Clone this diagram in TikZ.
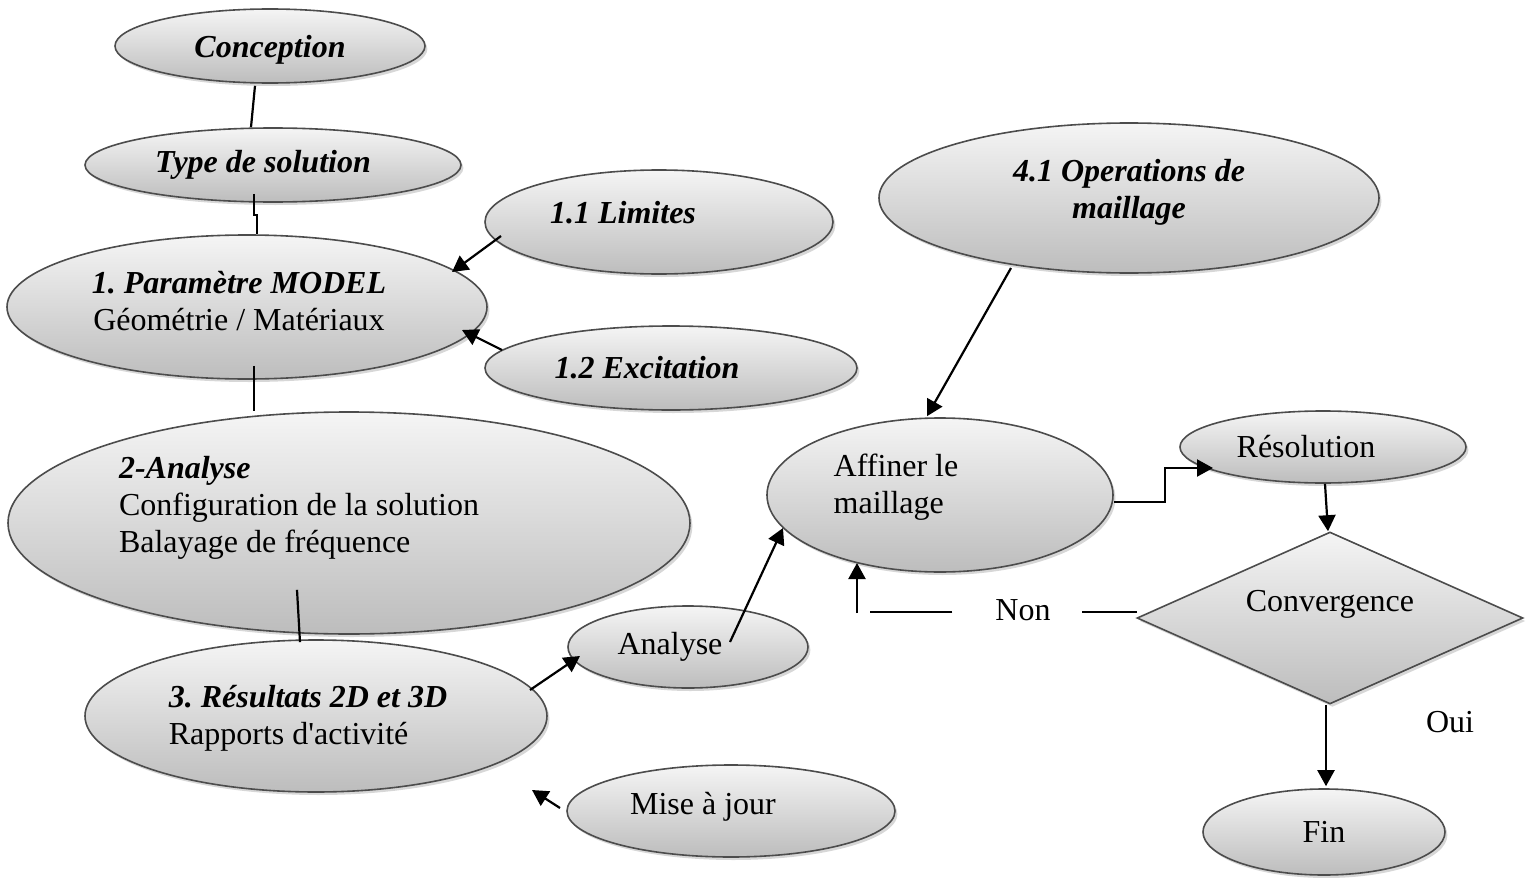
\documentclass[tikz,border=0pt]{standalone}
\usepackage{fontspec}
\setmainfont{Liberation Serif}
\usetikzlibrary{calc,shapes.geometric,shadows,arrows.meta}
\frenchspacing

\begin{document}
\begin{tikzpicture}[x=0.5pt,y=-0.5pt,
    every node/.style={font=\fontsize{16}{18.5}\selectfont},
    titre/.style={font=\fontsize{16}{18.5}\selectfont\bfseries\itshape},
    bulle/.style={ellipse, draw=gray!60!black, line width=0.8pt, inner sep=0pt,
      top color=gray!8, bottom color=gray!52,
      drop shadow={shadow xshift=1.2pt, shadow yshift=-1.5pt, fill=gray!45, opacity=0.7}},
    losange/.style={bulle, diamond},
    txt/.style={align=left, inner sep=0pt},
    ln/.style={line width=1.1pt},
    fl/.style={ln, -{Triangle[length=8pt,width=8.5pt]}}]
    \useasboundingbox (0,0) rectangle (1533,878);

    % partie gauche
    \node [bulle, minimum width=155pt, minimum height=37pt,
      label={[titre, yshift=-2pt]center:Conception}] (concep) at (270,46) {};
    \node [bulle, minimum width=188pt, minimum height=37pt,
      label={[titre, xshift=-5pt, yshift=0pt]center:Type de solution}] (typesol) at (273,165) {};
    \node [bulle, minimum width=240pt, minimum height=72pt,
      label={[txt, align=center, xshift=-4pt, yshift=3pt]center:{{\bfseries\itshape 1. Paramètre MODEL}\\Géométrie / Matériaux}}] (param) at (247,307) {};
    \node [bulle, minimum width=174pt, minimum height=52pt,
      label={[titre, xshift=-18pt, yshift=4.5pt]center:1.1 Limites}] (limites) at (659,222) {};
    \node [bulle, minimum width=186pt, minimum height=42pt,
      label={[titre, xshift=-12pt]center:1.2 Excitation}] (excit) at (671,368) {};
    \node [bulle, minimum width=341pt, minimum height=111pt,
      label={[txt, xshift=-25pt, yshift=7.5pt]center:{{\bfseries\itshape 2-Analyse}\\Configuration de la solution\\Balayage de fréquence}}] (anal) at (349,523) {};
    \node [bulle, minimum width=231pt, minimum height=76pt,
      label={[txt, xshift=-4pt, yshift=-1pt]center:{{\bfseries\itshape 3. Résultats 2D et 3D}\\Rapports d\textquotesingle activité}}] (result) at (316,716) {};
    \node [bulle, minimum width=120pt, minimum height=41pt,
      label={[xshift=-9pt]center:Analyse}] (analyse) at (688,647) {};
    \node [bulle, minimum width=164pt, minimum height=46pt,
      label={[xshift=-14pt, yshift=2pt]center:Mise à jour}] (majour) at (731,811) {};

    % partie droite
    \node [bulle, minimum width=250pt, minimum height=75pt,
      label={[titre, align=center, yshift=3pt]center:{4.1 Operations de\\maillage}}] (ops) at (1129,198) {};
    \node [bulle, minimum width=173pt, minimum height=77pt,
      label={[txt, xshift=-22pt, yshift=4pt]center:{Affiner le\\maillage}}] (affiner) at (940,495) {};
    \node [bulle, minimum width=143pt, minimum height=36pt,
      label={[xshift=-8.5pt]center:Résolution}] (resol) at (1323,447) {};
    \node [losange, minimum width=193pt, minimum height=86pt,
      label={[yshift=7pt]center:Convergence}] (conv) at (1330,618) {};
    \node [bulle, minimum width=121pt, minimum height=43pt] (fin) at (1324,832) {Fin};
    \node (non) at (1023,610) {Non};
    \node (oui) at (1450,722) {Oui};
    \coordinate (retour) at (857,613);

    % liaisons
    \draw [ln] ($(concep.south)+(-15,2)$) -- ($(typesol.north)+(-22,0)$);
    \draw [ln] ($(typesol.south)+(-19,-9)$) -- ++(0,21) -| ($(param.north)+(10,0)$);
    \draw [ln] ($(param.south)+(7,-14)$) -- ($(anal.north)+(-95,0)$);
    \draw [ln] ($(anal.south)+(-52,-45)$) -- ($(result.north)+(-16,3)$);
    \draw [fl] ($(limites)+(-158,14)$) -- ($(param)+(205,-35)$);
    \draw [fl] ($(excit)+(-169,-18)$) -- ($(param)+(215,23)$);
    \draw [fl] ($(result)+(214,-26)$) -- ($(analyse)+(-108,9)$);
    \draw [fl] ($(majour)+(-171,-3)$) -- ($(result)+(216,74)$);
    \draw [fl] ($(analyse)+(42,-5)$) -- ($(affiner)+(-157,33)$);
    \draw [fl] ($(ops)+(-118,70)$) -- ($(affiner.north)+(-13,-1)$);
    \draw [fl] ($(affiner.east)+(0,7)$) -- ++(51,0) |- ($(resol)+(-110,21)$);
    \draw [fl] ($(resol.south)+(2,0)$) -- ($(conv.north)+(-2,0)$);
    \draw [fl] ($(conv.south)+(-4,0)$) -- ($(fin.north)+(2,-2)$);
    \draw [ln] ($(conv.west)+(1,-6)$) -- ($(non.east)+(24,2)$);
    \draw [ln] ($(non.west)+(-36,2)$) -- ++(-82,0);
    \draw [fl] (retour) -- ($(affiner)+(-83,68)$);
\end{tikzpicture}
\end{document}
